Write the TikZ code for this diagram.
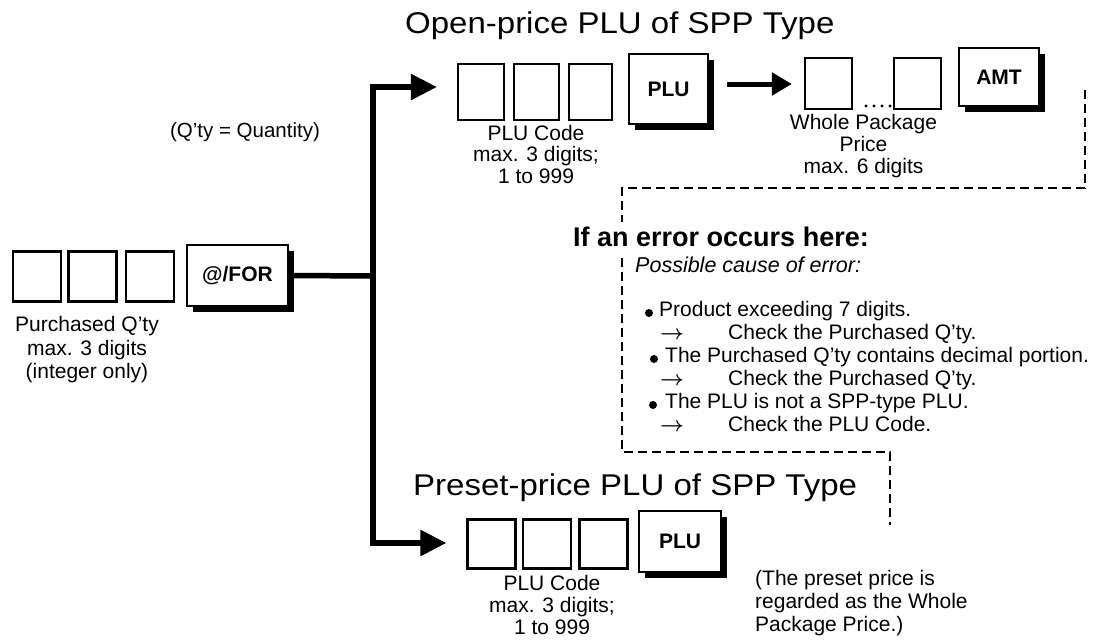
\documentclass[tikz,border=0pt]{standalone}
\usepackage{fontspec}
\setmainfont{Liberation Sans}
\newfontfamily\titlefont{Liberation Sans}[FakeStretch=1.1]
\usetikzlibrary{arrows.meta,shadows}
\newcommand{\chkarrow}{\makebox[69pt][l]{\hspace*{1pt}{\boldmath$\rightarrow$}}}
\begin{document}
\begin{tikzpicture}[x=1pt,y=-1pt,
  digitbox/.style={draw, line width=2.2pt, minimum width=48pt, minimum height=49pt, inner sep=0pt},
  keybox/.style={draw, line width=2pt, fill=white, inner sep=0pt,
    font=\bfseries\fontsize{21}{21}\selectfont,
    general shadow={fill=black, shadow xshift=6pt, shadow yshift=-6pt}},
  lbl/.style={align=center, inner sep=0pt, font=\fontsize{21}{23}\selectfont},
  flowline/.style={line width=5.5pt, -{Triangle[length=26pt,width=25pt]}},
  errline/.style={line width=2.4pt, dash pattern=on 9pt off 5pt},
  ttl/.style={font=\titlefont\fontsize{30}{30}\selectfont, inner sep=0pt, anchor=base west}
]
\useasboundingbox (0,0) rectangle (1095,640);

% ---- left: purchased quantity ----
\node[digitbox, minimum height=50pt] (q1) at (37,276.5) {};
\node[digitbox, minimum height=50pt] (q2) at (92.5,276.5) {};
\node[digitbox, minimum height=50pt] (q3) at (150,276.5) {};
\node[keybox, minimum width=101pt, minimum height=61pt] (forkey) at (237.5,275.5) {@/FOR};
\node[lbl, anchor=north, font=\fontsize{21}{23.5}\selectfont] (qcap) at (87,316.5)
  {Purchased Q'ty\\max. 3 digits\\(integer only)};
\node[inner sep=0pt, font=\fontsize{20.5}{20.5}\selectfont] (qnote) at (245,132) {(Q'ty = Quantity)};

% ---- top row: open-price PLU ----
\node[ttl] (ttop) at (405,33) {Open-price PLU of SPP Type};
\node[digitbox, minimum width=46pt, minimum height=56pt] (tb1) at (481,92) {};
\node[digitbox, minimum width=45pt, minimum height=56pt] (tb2) at (536.5,92) {};
\node[digitbox, minimum width=43pt, minimum height=56pt] (tb3) at (590.5,92) {};
\node[keybox, minimum width=79pt, minimum height=70pt] (tkey) at (668.5,89) {PLU};
\node[lbl, anchor=north, font=\fontsize{21}{21.5}\selectfont] (tcap) at (536,125)
  {PLU Code\\max. 3 digits;\\1 to 999};

\node[digitbox, minimum width=47pt, minimum height=51pt] (wb1) at (828.5,83.5) {};
\node[digitbox, minimum width=47pt, minimum height=51pt] (wb2) at (917.5,83.5) {};
\foreach \i in {0,...,3} \fill (866+8*\i,106) circle (1.7);
\node[keybox, minimum width=80pt, minimum height=58pt] (amt) at (999,77) {AMT};
\node[lbl, anchor=north, font=\fontsize{21}{22}\selectfont] (wcap) at (863.5,114)
  {Whole Package\\Price\\max. 6 digits};

% ---- bottom row: preset-price PLU ----
\node[ttl] (tbot) at (413,495) {Preset-price PLU of SPP Type};
\node[digitbox] (bb1) at (491.5,544) {};
\node[digitbox] (bb2) at (547,544) {};
\node[digitbox] (bb3) at (603.5,544) {};
\node[keybox, minimum width=82pt, minimum height=61pt] (bkey) at (680,541.5) {PLU};
\node[lbl, anchor=north, font=\fontsize{21}{22}\selectfont] (bcap) at (552,575)
  {PLU Code\\max. 3 digits;\\1 to 999};
\node[inner sep=0pt, anchor=north west, align=left, font=\fontsize{21}{23}\selectfont] (bnote) at (755,570)
  {(The preset price is\\regarded as the Whole\\Package Price.)};

% ---- connectors ----
\coordinate (fork) at (373,276);
\coordinate (topturn) at (373,87);
\coordinate (botturn) at (373,543);
\coordinate (a2s) at (727,84);
\draw[line width=5.5pt] (forkey.east) -- (fork);
\draw[flowline, shorten >=20pt] (fork) -- (topturn) -- (topturn -| tb1.west);
\draw[flowline, shorten >=20pt] (fork) -- (botturn) -- (botturn -| bb1.west);
\draw[line width=5pt, -{Triangle[length=20pt,width=22pt]}, shorten >=12pt] (a2s) -- (a2s -| wb1.west);

% ---- error box ----
\coordinate (e1) at (1085,90);
\coordinate (e2) at (622,222);
\coordinate (e3) at (622,258);
\coordinate (e4) at (890,525);
\draw[errline] (e1) -- (1085,188) -- (622,188) -- (e2);
\draw[errline] (e3) -- (622,452) -- (890,452) -- (e4);

\node[inner sep=0pt, anchor=base west, font=\bfseries\fontsize{27}{27}\selectfont] (ehead) at (573,246)
  {If an error occurs here:};
\node[inner sep=0pt, anchor=base west, font=\itshape\fontsize{21.5}{21.5}\selectfont] (ecause) at (635,272)
  {Possible cause of error:};
\fill (649,313) circle (4);
\fill (654,359) circle (4);
\fill (653,405) circle (4);
\node[inner sep=0pt, anchor=north west, align=left, font=\fontsize{21}{23}\selectfont] (elist) at (659,300.7)
  {Product exceeding 7 digits.\\
   \chkarrow Check the Purchased Q'ty.\\
   \hspace*{6pt}The Purchased Q'ty contains decimal portion.\\
   \chkarrow Check the Purchased Q'ty.\\
   \hspace*{6pt}The PLU is not a SPP-type PLU.\\
   \chkarrow Check the PLU Code.};
\end{tikzpicture}
\end{document}
